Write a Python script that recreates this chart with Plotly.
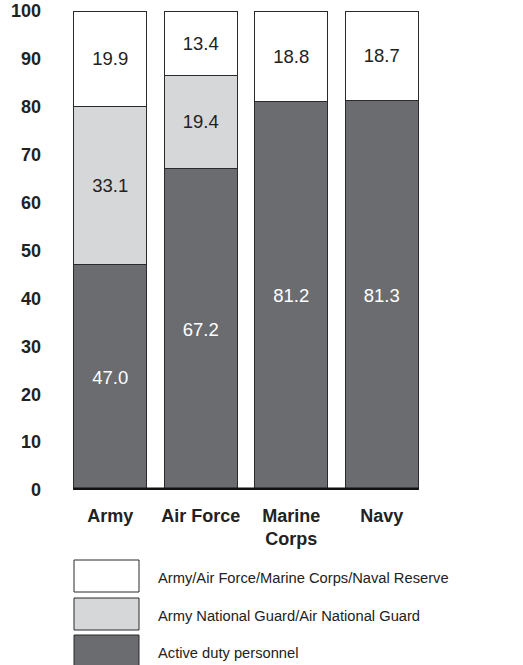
import plotly.graph_objects as go

categories = ["Army", "Air Force", "Marine<br>Corps", "Navy"]
active_duty = [47.0, 67.2, 81.2, 81.3]
national_guard = [33.1, 19.4, 0.0, 0.0]
reserve = [19.9, 13.4, 18.8, 18.7]
y_ticks = [0, 10, 20, 30, 40, 50, 60, 70, 80, 90, 100]
legend_names = ["Army/Air Force/Marine Corps/Naval Reserve",
                "Army National Guard/Air National Guard",
                "Active duty personnel"]

W, H = 523, 665
# target plot area in page pixels
P_LEFT, P_RIGHT, P_TOP, P_BOTTOM = 65, 427, 11, 490
ML = P_LEFT
MT = P_TOP
MR = W - P_RIGHT
MB = H - P_BOTTOM
PW, PH = W - ML - MR, H - MT - MB

def px(x):
    return (x - P_LEFT) / PW

def py(y):
    return (P_BOTTOM - y) / PH

FONT = "Liberation Sans, Arial, Helvetica, sans-serif"
DARK = "#6b6c70"
LIGHT = "#d6d7d9"
EDGE = "#2a2a2a"

def labels(vals):
    return ["" if v == 0 else f"{v:.1f}" for v in vals]

series = [
    (legend_names[2], active_duty, DARK, "white"),
    (legend_names[1], national_guard, LIGHT, "#222"),
    (legend_names[0], reserve, "white", "#222"),
]

fig = go.Figure()
for name, vals, color, tcolor in series:
    fig.add_trace(go.Bar(
        x=categories, y=vals, name=name,
        marker=dict(color=color, line=dict(color=EDGE, width=1)),
        text=labels(vals), textposition="inside", insidetextanchor="middle",
        textangle=0,
        textfont=dict(family=FONT, size=18.5, color=tcolor),
        hoverinfo="skip",
    ))

bargap = 0.19
half = (1 - bargap) / 2
fig.add_shape(type="line", xref="x", yref="y",
              x0=-half, x1=len(categories) - 1 + half, y0=0, y1=0,
              line=dict(color="#111", width=5), layer="above")

# custom legend
box_tops = [560, 598, 635]
for i, (name, color) in enumerate(zip(legend_names, ["white", LIGHT, DARK])):
    t = box_tops[i]
    fig.add_shape(type="rect", xref="paper", yref="paper",
                  x0=px(74), x1=px(139), y0=py(t + 32), y1=py(t),
                  fillcolor=color, line=dict(color=EDGE, width=1))
    fig.add_annotation(xref="paper", yref="paper", x=px(156), y=py(t + 18),
                       text=name, showarrow=False, xanchor="left", yanchor="middle",
                       font=dict(family=FONT, size=14.7, color="#222"))

fig.update_layout(
    width=W, height=H,
    margin=dict(l=ML, r=MR, t=MT, b=MB),
    barmode="stack", bargap=bargap,
    showlegend=False,
    plot_bgcolor="white", paper_bgcolor="white",
    font=dict(family=FONT, color="#222"),
    uniformtext=dict(mode=False),
)
fig.update_xaxes(range=[-0.5, 3.5], showline=False, showgrid=False, zeroline=False,
                 ticks="", ticklabelstandoff=13, automargin=False,
                 tickfont=dict(family=FONT, size=18, color="#222", weight="bold"))
fig.update_yaxes(range=[0, 100], tickvals=y_ticks, showline=False, showgrid=False,
                 zeroline=False, ticks="", ticklabelstandoff=23, automargin=False,
                 ticklabeloverflow="allow",
                 tickfont=dict(family=FONT, size=18, color="#222", weight="bold"))

fig.write_html("out.html", config={"displayModeBar": False},
               post_script="document.body.style.margin='0';document.body.style.overflow='hidden';")
